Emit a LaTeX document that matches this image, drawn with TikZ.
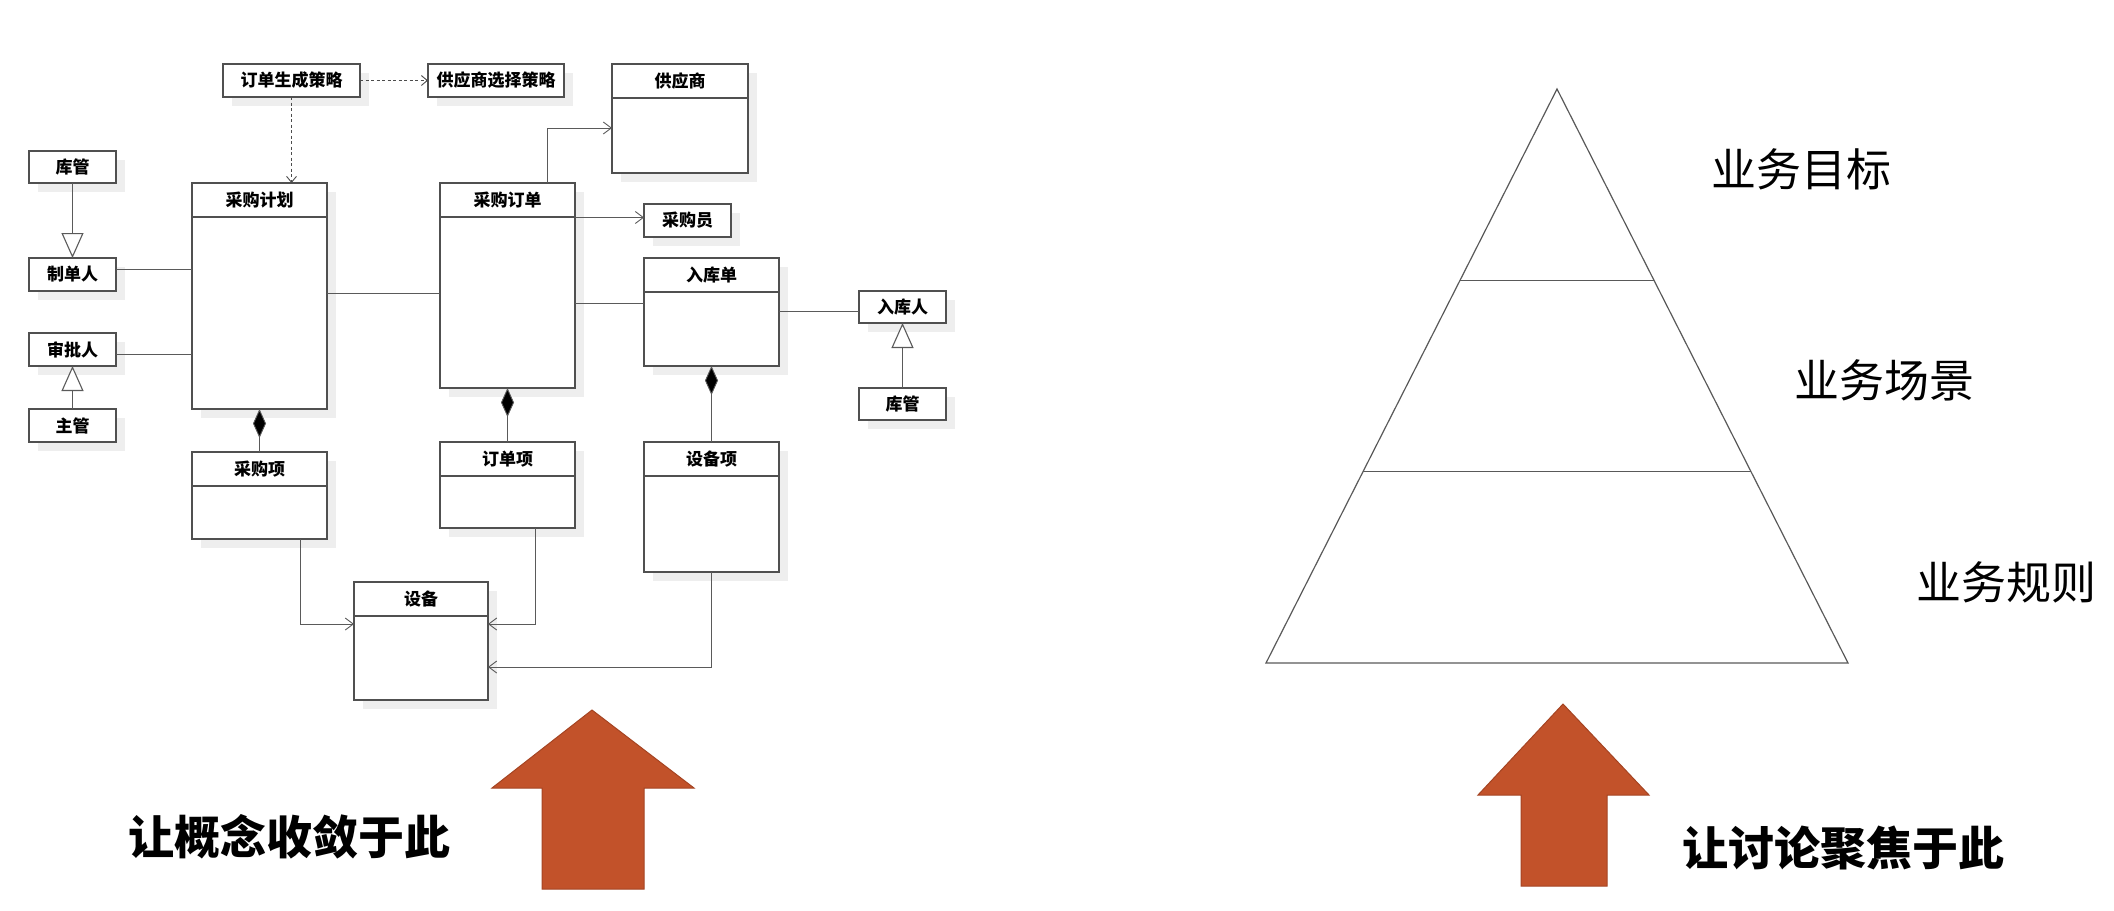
\documentclass[tikz,border=0pt]{standalone}
\usepackage{fontspec}
\newfontfamily\cjk{Noto Sans CJK SC}
\usetikzlibrary{arrows.meta, calc, shadows}
\definecolor{boxgray}{RGB}{80,80,80}
\definecolor{linegray}{RGB}{90,90,90}
\definecolor{shadowgray}{RGB}{238,238,238}
\definecolor{arrowfill}{RGB}{194,82,42}
\definecolor{arrowedge}{RGB}{165,68,34}
\tikzset{%
  umlbox/.style={draw=boxgray, line width=1.8pt, fill=white, inner sep=0pt, outer sep=0pt,
                 anchor=north west, font=\cjk\bfseries\fontsize{17}{20}\selectfont,
                 drop shadow={shadow xshift=9pt, shadow yshift=-9pt, fill=shadowgray, opacity=1}},
  classname/.style={font=\cjk\bfseries\fontsize{17}{20}\selectfont, inner sep=0pt},
  link/.style={draw=linegray, line width=0.9pt},
  open/.style={-{Straight Barb[length=8pt, width=12pt, line width=0.9pt]}},
  gen/.style={-{Triangle[open, length=25pt, width=22pt, fill=white, line width=1.1pt]}},
  comp/.style={{Diamond[length=29pt, width=13pt, fill=black]}-},
  dep/.style={draw=black!70, line width=1.8pt, dash pattern=on 3pt off 2.5pt,
              -{Straight Barb[length=6pt, width=10pt, line width=0.9pt, sep=0pt]}},
  pyr/.style={draw=black!65, line width=1.2pt},
  layer/.style={font=\cjk\fontsize{45}{54}\selectfont, inner sep=0pt},
  note/.style={font=\cjk\bfseries\fontsize{46}{55}\selectfont, inner sep=0pt},
  bigarrow/.style={fill=arrowfill, draw=arrowedge, line width=1pt, line join=miter},
}

\begin{document}
\begin{tikzpicture}[x=1pt, y=-1pt]
    \useasboundingbox (0,0) rectangle (2114,910);

    %plain boxes
    \foreach \name/\x/\y/\w/\h/\lbl in {kuguanA/29/151/87/32/库管, zhidan/29/258/87/33/制单人,
        shenpi/29/333/87/33/审批人, zhuguan/29/409/87/33/主管, genstrat/223/64/137/33/订单生成策略,
        selstrat/428/64/136/33/供应商选择策略, buyer/644/204/87/33/采购员,
        stocker/859/291/87/32/入库人, kuguanB/859/388/87/32/库管}
        \node[umlbox, minimum width=\w pt, minimum height=\h pt] (\name) at (\x,\y) {\lbl};

    %class boxes with a name compartment
    \foreach \name/\x/\y/\w/\h/\lbl in {plan/192/183/135/226/采购计划, order/440/183/135/205/采购订单,
        supplier/612/64/136/109/供应商, stockin/644/258/135/108/入库单,
        planitem/192/452/135/87/采购项, orderitem/440/442/135/86/订单项,
        equipitem/644/442/135/130/设备项, equip/354/582/134/118/设备}
    {
        \node[umlbox, minimum width=\w pt, minimum height=\h pt] (\name) at (\x,\y) {};
        \draw[draw=boxgray, line width=1.6pt] ([yshift=-34pt]\name.north west) -- ([yshift=-34pt]\name.north east);
        \node[classname] at ([yshift=-17pt]\name.north) {\lbl};
    }

    %generalization
    \draw[link, gen] (kuguanA) -- (zhidan);
    \draw[link, gen] (zhuguan) -- (shenpi);
    \draw[link, gen] (kuguanB) -- (stocker);

    %associations
    \draw[link] ([yshift=5pt]zhidan.east) -- ([yshift=5pt]zhidan.east -| plan.west);
    \draw[link] ([yshift=-5pt]shenpi.east) -- ([yshift=-5pt]shenpi.east -| plan.west);
    \draw[link] ([yshift=3pt]plan.east) -- ([yshift=3pt]plan.east -| order.west);
    \draw[link] ([yshift=9pt]stockin.west -| order.east) -- ([yshift=9pt]stockin.west);
    \draw[link] ([yshift=-4pt]stocker.west -| stockin.east) -- ([yshift=-4pt]stocker.west);
    \draw[link, open] ([yshift=3pt]buyer.west -| order.east) -- ([yshift=3pt]buyer.west);
    \draw[link, open] ([xshift=40pt]order.north) |- ([yshift=-9.5pt]supplier.west);

    %composition
    \draw[link, comp] (plan) -- (planitem);
    \draw[link, comp] (order) -- (orderitem);
    \draw[link, comp] (stockin) -- (equipitem);

    %items point to the equipment
    \draw[link, open] ([xshift=41pt]planitem.south) |- ([yshift=17pt]equip.west);
    \draw[link, open] ([xshift=28pt]orderitem.south) |- ([yshift=17pt]equip.east);
    \draw[link, open] (equipitem.south) |- ([yshift=-26pt]equip.east);

    %strategies
    \draw[dep] (genstrat.south) -- (genstrat.south |- plan.north);
    \draw[dep] (genstrat) -- (selstrat);

    %pyramid
    \coordinate (T) at (1557,89);
    \coordinate (L) at (1266,663);
    \coordinate (R) at (1848,663);
    \draw[pyr] (T) -- (L) -- (R) -- cycle;
    \draw[pyr] ($(T)!1/3!(L)$) -- ($(T)!1/3!(R)$);
    \draw[pyr] ($(T)!2/3!(L)$) -- ($(T)!2/3!(R)$);

    \node[layer] (goal) at (1801,169) {业务目标};
    \node[layer] (scene) at (1884,380) {业务场景};
    \node[layer] (rule) at (2006,582) {业务规则};

    %big arrows
    \draw[bigarrow] (592,710) -- (694,788) -- (644,788) -- (644,889) -- (542,889) -- (542,788) -- (492,788) -- cycle;
    \draw[bigarrow] (1563,704) -- (1649,795) -- (1607,795) -- (1607,886) -- (1521,886) -- (1521,795) -- (1478,795) -- cycle;

    \node[note] (converge) at (289,837) {让概念收敛于此};
    \node[note] (focus) at (1843,848) {让讨论聚焦于此};
\end{tikzpicture}
\end{document}
